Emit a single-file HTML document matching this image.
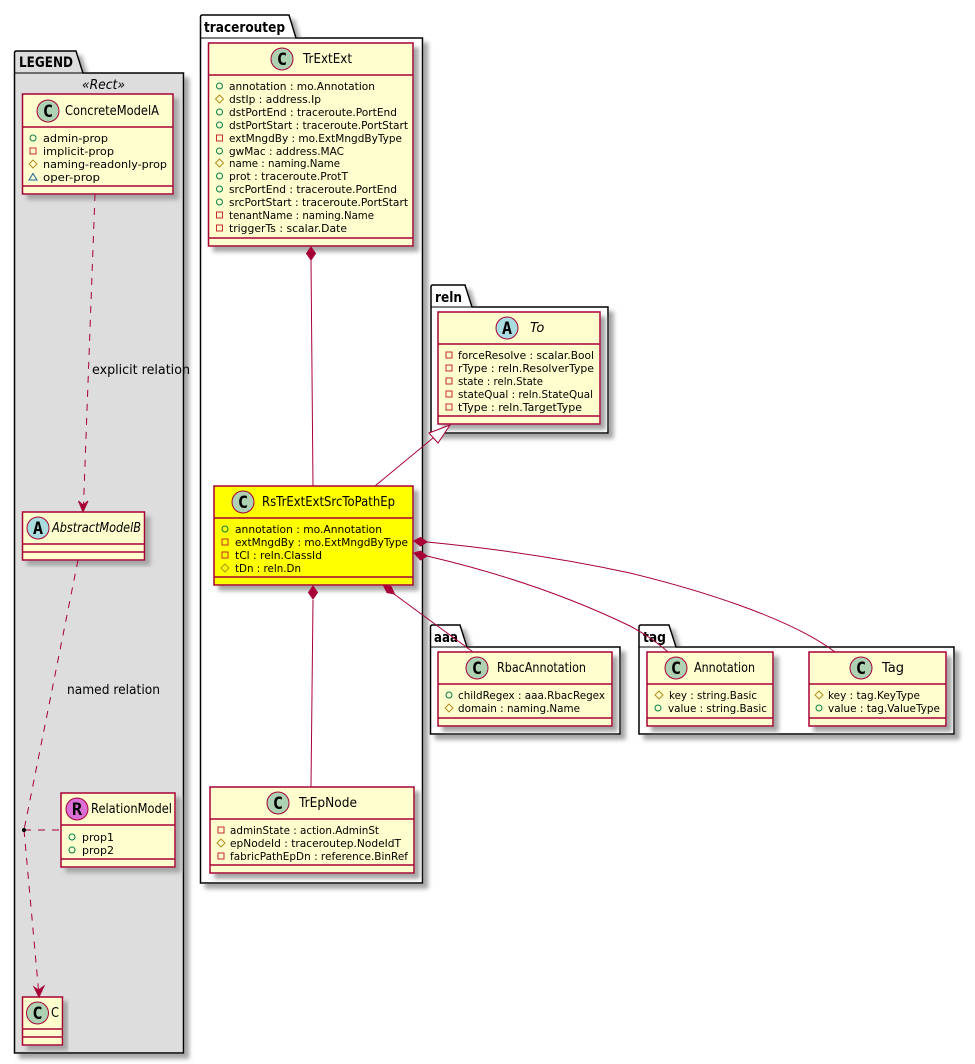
<!DOCTYPE html>
<html><head><meta charset="utf-8"><title>traceroutep class diagram</title>
<style>
html,body{margin:0;padding:0;background:#fff}
svg{display:block}
text{font-family:"DejaVu Sans","Liberation Sans",sans-serif;fill:#000}
.a{font-size:11px}
.n{font-size:13px}
.p{font-size:14px;font-weight:bold}
.l{font-size:13px}
.g{font-family:"DejaVu Sans Mono","Liberation Mono",monospace;font-size:17px;font-weight:bold;text-anchor:middle}
.i{font-style:italic}
.box{fill:#FEFECE;stroke:#A80036;stroke-width:1.5;filter:url(#s)}
.hl{fill:#FFFF00}
.div{stroke:#A80036;stroke-width:1.5;fill:none}
.pk{fill:#fff;stroke:#000;stroke-width:1.5}
.lg{fill:#DDDDDD}
.ln{stroke:#A80036;stroke-width:1;fill:none}
.ds{stroke-dasharray:7 7}
.c{stroke:#A80036;stroke-width:1}
</style></head>
<body>
<svg xmlns="http://www.w3.org/2000/svg" width="975" height="1064" viewBox="0 0 975 1064">
<defs>
<filter id="s" x="-10%" y="-10%" width="125%" height="125%"><feGaussianBlur in="SourceAlpha" stdDeviation="2"/><feOffset dx="5" dy="5"/><feColorMatrix values="0 0 0 0 .38 0 0 0 0 .38 0 0 0 0 .38 0 0 0 1 0"/><feMerge><feMergeNode/><feMergeNode in="SourceGraphic"/></feMerge></filter>
<symbol id="pub" width="10" height="10" viewBox="0 0 10 10" overflow="visible"><circle cx="5" cy="5" r="3" fill="none" stroke="#038048"/></symbol>
<symbol id="pri" width="10" height="10" viewBox="0 0 10 10" overflow="visible"><rect x="2" y="2" width="6" height="6" fill="none" stroke="#C82930"/></symbol>
<symbol id="pro" width="10" height="10" viewBox="0 0 10 10" overflow="visible"><path d="M5 1 L9 5 L5 9 L1 5 Z" fill="none" stroke="#B38D22"/></symbol>
<symbol id="pkg" width="10" height="10" viewBox="0 0 10 10" overflow="visible"><path d="M5 1.5 L9 8 L1 8 Z" fill="none" stroke="#1963A0"/></symbol>
</defs>

<!-- packages -->
<g filter="url(#s)">
<path class="pk lg" d="M14.5 73 V53 Q14.5 51 16.5 51 H76 L83 73 H183.5 V1053 H14.5 Z"/>
</g>
<path d="M14.5 73 H83" stroke="#000" stroke-width="1"/>
<text class="p" x="19" y="67" textLength="54" lengthAdjust="spacingAndGlyphs">LEGEND</text>
<g filter="url(#s)">
<path class="pk" d="M200.5 38 V17 Q200.5 15 202.5 15 H289 L296 38 H422.5 V883 H200.5 Z"/>
</g>
<path d="M200.5 38 H296" stroke="#000" stroke-width="1"/>
<text class="p" x="204" y="32" textLength="81" lengthAdjust="spacingAndGlyphs">traceroutep</text>
<g filter="url(#s)">
<path class="pk" d="M431 307 V287 Q431 285 433 285 H465 L472 307 H608 V433 H431 Z"/>
</g>
<path d="M431 307 H472" stroke="#000" stroke-width="1"/>
<text class="p" x="435" y="302" textLength="27" lengthAdjust="spacingAndGlyphs">reln</text>
<g filter="url(#s)">
<path class="pk" d="M430.5 647 V627 Q430.5 625 432.5 625 H460 L467 647 H620 V734 H430.5 Z"/>
</g>
<path d="M430.5 647 H467" stroke="#000" stroke-width="1"/>
<text class="p" x="434" y="642" textLength="24" lengthAdjust="spacingAndGlyphs">aaa</text>
<g filter="url(#s)">
<path class="pk" d="M639 647 V627 Q639 625 641 625 H669 L676 647 H954 V734 H639 Z"/>
</g>
<path d="M639 647 H676" stroke="#000" stroke-width="1"/>
<text class="p" x="643" y="642" textLength="23" lengthAdjust="spacingAndGlyphs">tag</text>

<!-- LEGEND classes -->
<text class="n i" x="82" y="89" textLength="43" lengthAdjust="spacingAndGlyphs">«Rect»</text>
<rect class="box" x="22.5" y="94" width="150.5" height="100"/>
<path class="div" d="M22.5 127 H173 M22.5 186 H173"/>
<circle cx="48" cy="111" r="11" fill="#ADD1B2" class="c"/><text class="g" x="48" y="117">C</text>
<text class="n" x="65" y="115" textLength="94" lengthAdjust="spacingAndGlyphs">ConcreteModelA</text>
<use href="#pub" x="28" y="133"/><text class="a" x="43" y="142" textLength="65" lengthAdjust="spacingAndGlyphs">admin-prop</text>
<use href="#pri" x="28" y="146"/><text class="a" x="43" y="155" textLength="71" lengthAdjust="spacingAndGlyphs">implicit-prop</text>
<use href="#pro" x="28" y="159"/><text class="a" x="43" y="168" textLength="124" lengthAdjust="spacingAndGlyphs">naming-readonly-prop</text>
<use href="#pkg" x="28" y="172"/><text class="a" x="43" y="181" textLength="57" lengthAdjust="spacingAndGlyphs">oper-prop</text>

<rect class="box" x="22.5" y="512" width="122" height="48"/>
<path class="div" d="M22.5 544 H144.5 M22.5 552 H144.5"/>
<circle cx="38" cy="528" r="11" fill="#A9DCDF" class="c"/><text class="g" x="38" y="534">A</text>
<text class="n i" x="52" y="532" textLength="89" lengthAdjust="spacingAndGlyphs">AbstractModelB</text>

<rect class="box" x="61" y="793" width="114" height="74"/>
<path class="div" d="M61 825 H175 M61 859 H175"/>
<circle cx="77" cy="809" r="11" fill="#DA70D6" class="c"/><text class="g" x="77" y="815">R</text>
<text class="n" x="91" y="813" textLength="81" lengthAdjust="spacingAndGlyphs">RelationModel</text>
<use href="#pub" x="67" y="832"/><text class="a" x="82" y="841" textLength="32" lengthAdjust="spacingAndGlyphs">prop1</text>
<use href="#pub" x="67" y="845"/><text class="a" x="82" y="854" textLength="32" lengthAdjust="spacingAndGlyphs">prop2</text>

<rect class="box" x="22.5" y="997" width="40" height="48"/>
<path class="div" d="M22.5 1029 H62.5 M22.5 1037 H62.5"/>
<circle cx="37.5" cy="1013" r="11" fill="#ADD1B2" class="c"/><text class="g" x="37.5" y="1019">C</text>
<text class="n" x="51" y="1017" textLength="8" lengthAdjust="spacingAndGlyphs">C</text>

<!-- TrExtExt -->
<rect class="box" x="208.5" y="43" width="204.5" height="203"/>
<path class="div" d="M208.5 75 H413 M208.5 238 H413"/>
<circle cx="282" cy="59" r="11" fill="#ADD1B2" class="c"/><text class="g" x="282" y="65">C</text>
<text class="n" x="303" y="63" textLength="49" lengthAdjust="spacingAndGlyphs">TrExtExt</text>
<use href="#pub" x="214.5" y="81"/><text class="a" x="229" y="90" textLength="146" lengthAdjust="spacingAndGlyphs">annotation : mo.Annotation</text>
<use href="#pro" x="214.5" y="94"/><text class="a" x="229" y="103" textLength="92" lengthAdjust="spacingAndGlyphs">dstIp : address.Ip</text>
<use href="#pub" x="214.5" y="107"/><text class="a" x="229" y="116" textLength="168" lengthAdjust="spacingAndGlyphs">dstPortEnd : traceroute.PortEnd</text>
<use href="#pub" x="214.5" y="120"/><text class="a" x="229" y="129" textLength="179" lengthAdjust="spacingAndGlyphs">dstPortStart : traceroute.PortStart</text>
<use href="#pri" x="214.5" y="133"/><text class="a" x="229" y="142" textLength="173" lengthAdjust="spacingAndGlyphs">extMngdBy : mo.ExtMngdByType</text>
<use href="#pub" x="214.5" y="146"/><text class="a" x="229" y="155" textLength="115" lengthAdjust="spacingAndGlyphs">gwMac : address.MAC</text>
<use href="#pro" x="214.5" y="158"/><text class="a" x="229" y="167" textLength="111" lengthAdjust="spacingAndGlyphs">name : naming.Name</text>
<use href="#pub" x="214.5" y="171"/><text class="a" x="229" y="180" textLength="119" lengthAdjust="spacingAndGlyphs">prot : traceroute.ProtT</text>
<use href="#pub" x="214.5" y="184"/><text class="a" x="229" y="193" textLength="168" lengthAdjust="spacingAndGlyphs">srcPortEnd : traceroute.PortEnd</text>
<use href="#pub" x="214.5" y="197"/><text class="a" x="229" y="206" textLength="179" lengthAdjust="spacingAndGlyphs">srcPortStart : traceroute.PortStart</text>
<use href="#pri" x="214.5" y="210"/><text class="a" x="229" y="219" textLength="145" lengthAdjust="spacingAndGlyphs">tenantName : naming.Name</text>
<use href="#pri" x="214.5" y="223"/><text class="a" x="229" y="232" textLength="118" lengthAdjust="spacingAndGlyphs">triggerTs : scalar.Date</text>

<!-- RsTrExtExtSrcToPathEp -->
<rect class="box hl" x="214" y="486" width="199" height="99"/>
<path class="div" d="M214 518 H413 M214 577 H413"/>
<circle cx="243" cy="502" r="11" fill="#ADD1B2" class="c"/><text class="g" x="243" y="508">C</text>
<text class="n" x="262" y="506" textLength="133" lengthAdjust="spacingAndGlyphs">RsTrExtExtSrcToPathEp</text>
<use href="#pub" x="220" y="524"/><text class="a" x="235" y="533" textLength="147" lengthAdjust="spacingAndGlyphs">annotation : mo.Annotation</text>
<use href="#pri" x="220" y="537"/><text class="a" x="235" y="546" textLength="173" lengthAdjust="spacingAndGlyphs">extMngdBy : mo.ExtMngdByType</text>
<use href="#pri" x="220" y="550"/><text class="a" x="235" y="559" textLength="87" lengthAdjust="spacingAndGlyphs">tCl : reln.ClassId</text>
<use href="#pro" x="220" y="563"/><text class="a" x="235" y="572" textLength="66" lengthAdjust="spacingAndGlyphs">tDn : reln.Dn</text>

<!-- TrEpNode -->
<rect class="box" x="210" y="787" width="204" height="86"/>
<path class="div" d="M210 819 H414 M210 865 H414"/>
<circle cx="278" cy="803" r="11" fill="#ADD1B2" class="c"/><text class="g" x="278" y="809">C</text>
<text class="n" x="299" y="807" textLength="58" lengthAdjust="spacingAndGlyphs">TrEpNode</text>
<use href="#pri" x="216" y="825"/><text class="a" x="230" y="834" textLength="149" lengthAdjust="spacingAndGlyphs">adminState : action.AdminSt</text>
<use href="#pro" x="216" y="838"/><text class="a" x="230" y="847" textLength="171" lengthAdjust="spacingAndGlyphs">epNodeId : traceroutep.NodeIdT</text>
<use href="#pri" x="216" y="851"/><text class="a" x="230" y="860" textLength="178" lengthAdjust="spacingAndGlyphs">fabricPathEpDn : reference.BinRef</text>

<!-- To -->
<rect class="box" x="438" y="312" width="162" height="112"/>
<path class="div" d="M438 344 H600 M438 416 H600"/>
<circle cx="507" cy="328" r="11" fill="#A9DCDF" class="c"/><text class="g" x="507" y="334">A</text>
<text class="n i" x="530" y="332">To</text>
<use href="#pri" x="444" y="350"/><text class="a" x="458" y="359" textLength="136" lengthAdjust="spacingAndGlyphs">forceResolve : scalar.Bool</text>
<use href="#pri" x="444" y="363"/><text class="a" x="458" y="372" textLength="136" lengthAdjust="spacingAndGlyphs">rType : reln.ResolverType</text>
<use href="#pri" x="444" y="376"/><text class="a" x="458" y="385" textLength="85" lengthAdjust="spacingAndGlyphs">state : reln.State</text>
<use href="#pri" x="444" y="389"/><text class="a" x="458" y="398" textLength="135" lengthAdjust="spacingAndGlyphs">stateQual : reln.StateQual</text>
<use href="#pri" x="444" y="402"/><text class="a" x="458" y="411" textLength="124" lengthAdjust="spacingAndGlyphs">tType : reln.TargetType</text>

<!-- RbacAnnotation -->
<rect class="box" x="438" y="652" width="174" height="74"/>
<path class="div" d="M438 684 H612 M438 718 H612"/>
<circle cx="477" cy="668" r="11" fill="#ADD1B2" class="c"/><text class="g" x="477" y="674">C</text>
<text class="n" x="497" y="672" textLength="89" lengthAdjust="spacingAndGlyphs">RbacAnnotation</text>
<use href="#pub" x="444" y="690"/><text class="a" x="458" y="699" textLength="147" lengthAdjust="spacingAndGlyphs">childRegex : aaa.RbacRegex</text>
<use href="#pro" x="444" y="703"/><text class="a" x="458" y="712" textLength="122" lengthAdjust="spacingAndGlyphs">domain : naming.Name</text>

<!-- Annotation -->
<rect class="box" x="647" y="652" width="126" height="74"/>
<path class="div" d="M647 684 H773 M647 718 H773"/>
<circle cx="676" cy="668" r="11" fill="#ADD1B2" class="c"/><text class="g" x="676" y="674">C</text>
<text class="n" x="694" y="672" textLength="61" lengthAdjust="spacingAndGlyphs">Annotation</text>
<use href="#pro" x="654" y="690"/><text class="a" x="669" y="699" textLength="88" lengthAdjust="spacingAndGlyphs">key : string.Basic</text>
<use href="#pub" x="653" y="703"/><text class="a" x="668" y="712" textLength="99" lengthAdjust="spacingAndGlyphs">value : string.Basic</text>

<!-- Tag -->
<rect class="box" x="809" y="652" width="137" height="74"/>
<path class="div" d="M809 684 H946 M809 718 H946"/>
<circle cx="861" cy="668" r="11" fill="#ADD1B2" class="c"/><text class="g" x="861" y="674">C</text>
<text class="n" x="882" y="672" textLength="22" lengthAdjust="spacingAndGlyphs">Tag</text>
<use href="#pro" x="814" y="690"/><text class="a" x="828" y="699" textLength="92" lengthAdjust="spacingAndGlyphs">key : tag.KeyType</text>
<use href="#pub" x="814" y="703"/><text class="a" x="828" y="712" textLength="112" lengthAdjust="spacingAndGlyphs">value : tag.ValueType</text>

<!-- legend connectors -->
<path class="ln ds" d="M95 194 L83.5 505"/>
<path d="M83 512 L78.500 501 L83 505 L88 501 Z" fill="#A80036" stroke="#A80036"/>
<text class="l" x="92" y="374" textLength="98" lengthAdjust="spacingAndGlyphs">explicit relation</text>
<path class="ln ds" d="M78 560 L24 830"/>
<path class="ln ds" d="M24 830 L38.5 990"/>
<path d="M39 997 L34 987 L38.500 990 L44 986 Z" fill="#A80036" stroke="#A80036"/>
<path class="ln ds" d="M24 830 H61"/>
<circle cx="24" cy="830" r="2" fill="#000"/>
<text class="l" x="67" y="694" textLength="93" lengthAdjust="spacingAndGlyphs">named relation</text>

<!-- main connectors -->
<path class="ln" d="M311 260 L313 486"/>
<path d="M311 247 L315.500 253.500 L311 260 L306.500 253.500 Z" fill="#A80036" stroke="#A80036"/>
<path class="ln" d="M375 486 L433 438"/>
<path d="M450 425 L438 443 L429 433 Z" fill="#fff" stroke="#A80036"/>
<path class="ln" d="M313 600 L311 787"/>
<path d="M313 586 L317.500 592.500 L313 599 L308.500 592.500 Z" fill="#A80036" stroke="#A80036"/>
<path class="ln" d="M394 594 L473 652"/>
<path d="M383.500 585.500 L391 586.500 L394.500 594 L387 592.500 Z" fill="#A80036" stroke="#A80036"/>
<path class="ln" d="M427 542 C500 549 570 560 630 573 C700 590 790 618 835 652"/>
<path d="M414 541 L420.500 537.500 L427 542 L420.500 546 Z" fill="#A80036" stroke="#A80036"/>
<path class="ln" d="M427 556 C500 573 570 597 630 626 C645 634 658 643 668 652"/>
<path d="M414 553 L420.500 551 L427 556 L420.500 560 Z" fill="#A80036" stroke="#A80036"/>
</svg>
</body></html>
